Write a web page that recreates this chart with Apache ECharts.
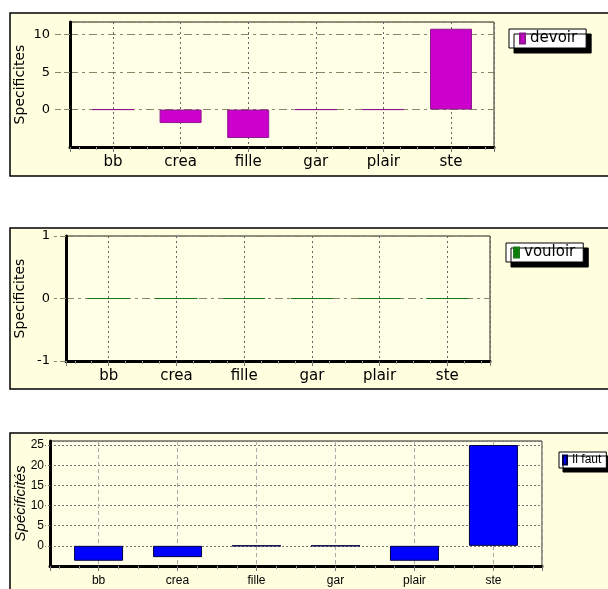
<!DOCTYPE html>
<html>
<head>
<meta charset="utf-8">
<script src="https://cdn.jsdelivr.net/npm/echarts@6/dist/echarts.min.js"></script>
<style>
  html, body { margin: 0; padding: 0; background: #fff; }
  #chart { width: 608px; height: 589px; }
</style>
</head>
<body>
<div id="chart"></div>
<script>
// données
const categories = ['bb', 'crea', 'fille', 'gar', 'plair', 'ste']
const devoirValues = [0, -1.8, -3.8, 0, 0, 10.8]
const vouloirValues = [0, 0, 0, 0, 0, 0]
const ilFautValues = [-3.7, -2.8, 0, 0, -3.7, 25]

const panelBg = '#ffffdf'
const plotBg = '#ffffe8'
const wide = "'DejaVu Sans', sans-serif"
const narrow = "'Liberation Sans Narrow', 'Liberation Sans', Arial, sans-serif"
const arial = "'Liberation Sans', Arial, sans-serif"

// label only on integer positions (one per category)
const catLabel = (v) => {
  const i = Math.round(v)
  return Math.abs(v - i) < 1e-6 && categories[i] ? categories[i] : ''
}
const pairs = (vals) => vals.map((v, i) => [i, v])

const xAxisFor = (idx, pad, font, size, margin, vColor, vType) => ({
  type: 'value',
  gridIndex: idx,
  min: -pad,
  max: categories.length - 1 + pad,
  splitNumber: 6,
  axisLine: { show: true, onZero: false, lineStyle: { color: '#000', width: 3 } },
  axisTick: { show: true, length: 5, lineStyle: { color: '#777' } },
  minorTick: { show: true, splitNumber: 4, length: 3, lineStyle: { color: '#999' } },
  axisLabel: { formatter: catLabel, fontFamily: font, fontSize: size, color: '#000', margin: margin },
  splitLine: { show: true, lineStyle: { color: vColor, type: vType, width: 1 } }
})

const legendFor = (name, left, top, font, size, pad, offset) => ({
  data: [name],
  left: left,
  top: top,
  icon: 'rect',
  itemWidth: size > 13 ? 5 : 4,
  itemHeight: size > 13 ? 10 : 9,
  padding: pad,
  selectedMode: false,
  backgroundColor: '#fff',
  borderColor: '#000',
  borderWidth: 1,
  borderRadius: 0,
  shadowColor: '#000',
  shadowBlur: 0,
  shadowOffsetX: offset,
  shadowOffsetY: offset,
  textStyle: { fontFamily: font, fontSize: size, color: '#000' }
})

const option = {
  animation: false,
  backgroundColor: '#fff',
  graphic: {
    elements: [
      { type: 'rect', z: -100, shape: { x: 10, y: 13, width: 610, height: 163 }, style: { fill: panelBg, stroke: '#000', lineWidth: 1.5 } },
      { type: 'rect', z: -100, shape: { x: 10, y: 228, width: 610, height: 161 }, style: { fill: panelBg, stroke: '#000', lineWidth: 1.5 } },
      { type: 'rect', z: -100, shape: { x: 10, y: 433, width: 610, height: 170 }, style: { fill: panelBg, stroke: '#000', lineWidth: 1.5 } }
    ]
  },
  grid: [
    { left: 70, top: 22, width: 424, height: 125, show: true, backgroundColor: plotBg, borderColor: '#222', borderWidth: 1 },
    { left: 66, top: 236, width: 424, height: 125, show: true, backgroundColor: plotBg, borderColor: '#222', borderWidth: 1 },
    { left: 50, top: 441, width: 492, height: 125, show: true, backgroundColor: plotBg, borderColor: '#222', borderWidth: 1 }
  ],
  xAxis: [
    xAxisFor(0, 0.636, wide, 15, 8, '#666', [2, 3]),
    xAxisFor(1, 0.63, wide, 15, 8, '#666', [2, 3]),
    xAxisFor(2, 0.615, narrow, 12, 9, '#aaa', [4, 3])
  ],
  yAxis: [
    {
      type: 'value', gridIndex: 0, min: -5, max: 11.7, interval: 5,
      name: 'Specificites', nameLocation: 'middle', nameGap: 43, nameRotate: 90, nameMoveOverlap: false,
      nameTextStyle: { fontFamily: wide, fontSize: 14, color: '#000' },
      axisLine: { show: true, onZero: false, lineStyle: { color: '#000', width: 3 } },
      axisTick: { show: true, length: 16, lineStyle: { color: '#888866', type: [6, 3] } },
      axisLabel: { fontFamily: wide, fontSize: 13, color: '#000', margin: 20, showMinLabel: false, showMaxLabel: false },
      splitLine: { show: true, lineStyle: { color: '#888866', type: [8, 4, 3, 4] } }
    },
    {
      type: 'value', gridIndex: 1, min: -1, max: 1, interval: 1,
      name: 'Specificites', nameLocation: 'middle', nameGap: 39, nameRotate: 90, nameMoveOverlap: false,
      nameTextStyle: { fontFamily: wide, fontSize: 14, color: '#000' },
      axisLine: { show: true, onZero: false, lineStyle: { color: '#000', width: 3 } },
      axisTick: { show: true, length: 12, lineStyle: { color: '#888866', type: [6, 3] } },
      axisLabel: { fontFamily: wide, fontSize: 13, color: '#000', margin: 16 },
      splitLine: { show: true, lineStyle: { color: '#888866', type: [8, 4, 3, 4] } }
    },
    {
      type: 'value', gridIndex: 2, min: -5, max: 26, interval: 5,
      name: 'Spécificités', nameLocation: 'middle', nameGap: 22, nameRotate: 90, nameMoveOverlap: false,
      nameTextStyle: { fontFamily: arial, fontSize: 15, fontStyle: 'italic', color: '#000' },
      axisLine: { show: true, onZero: false, lineStyle: { color: '#000', width: 3 } },
      axisTick: { show: true, length: 5, lineStyle: { color: '#777', type: [2, 2] } },
      axisLabel: { fontFamily: narrow, fontSize: 12, color: '#000', margin: 6, showMinLabel: false, showMaxLabel: false },
      splitLine: { show: true, lineStyle: { color: '#777', type: [2, 2] } }
    }
  ],
  legend: [
    legendFor('devoir', 509, 29, wide, 15, [2, 9, 2, 10], 5),
    legendFor('vouloir', 506, 243, wide, 15, [2, 8, 2, 7], 5),
    legendFor('Il faut', 559, 452, narrow, 12, [2, 5, 2, 3], 4)
  ],
  series: [
    {
      name: 'devoir', type: 'bar', xAxisIndex: 0, yAxisIndex: 0, barWidth: 42,
      data: pairs(devoirValues),
      itemStyle: { color: '#cc00cc', borderColor: '#8a1a8a', borderWidth: 1 }
    },
    {
      name: 'vouloir', type: 'bar', xAxisIndex: 1, yAxisIndex: 1, barWidth: 42,
      data: pairs(vouloirValues),
      itemStyle: { color: '#008000', borderColor: '#1a7a1a', borderWidth: 1 }
    },
    {
      name: 'Il faut', type: 'bar', xAxisIndex: 2, yAxisIndex: 2, barWidth: 49,
      data: pairs(ilFautValues),
      itemStyle: { color: '#0000ff', borderColor: '#000044', borderWidth: 1 }
    }
  ]
}

const chart = echarts.init(document.getElementById('chart'))
chart.setOption(option)
</script>
</body>
</html>
